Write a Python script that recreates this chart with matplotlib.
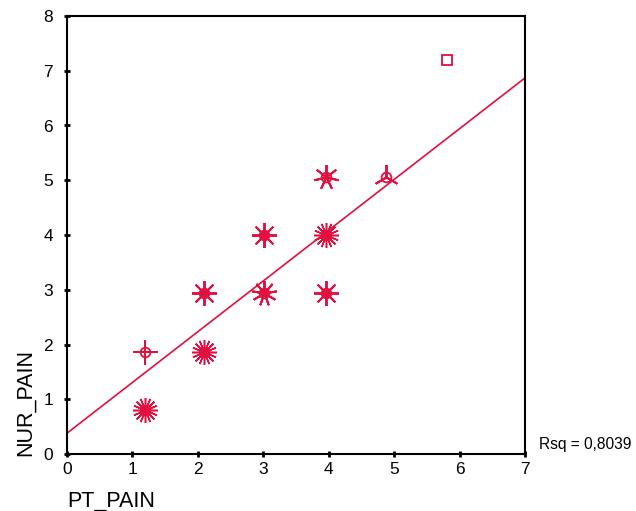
import matplotlib.pyplot as plt

plt.rcParams['font.family'] = ['Liberation Sans', 'DejaVu Sans']

# sunflower centres (binned PT_PAIN vs NUR_PAIN) and number of petals
pt_pain = [1.19, 1.19, 2.10, 2.10, 3.01, 3.01, 3.96, 3.96, 3.96, 4.88, 5.81]
nur_pain = [0.80, 1.86, 1.86, 2.94, 2.94, 4.00, 4.00, 2.94, 5.06, 5.06, 7.20]
petals = [16, 4, 16, 8, 9, 8, 16, 8, 7, 3, 0]

# fit line
intercept = 0.38
slope = 0.927
rsq = "Rsq = 0,8039"

col = '#E0103F'

fig = plt.figure(figsize=(6.36, 5.11), dpi=100)
ax = fig.add_axes([67/636, 57/511, 458/636, 438/511])

# regression line
ax.plot([0, 7], [intercept, intercept + slope * 7], color=col, lw=1.2, zorder=2)

# sunflowers
for x, y, n in zip(pt_pain, nur_pain, petals):
    ax.plot(x, y, marker='s' if n == 0 else 'o', ms=7, mfc='none', mec=col, mew=1.3, zorder=3)
    if n > 0:
        ax.plot(x, y, marker=(n, 2, 0), ms=18, mec=col, mew=1.1 if n > 10 else 1.4,
                ls='none', zorder=3)

ax.set_xlim(0, 7)
ax.set_ylim(0, 8)
ax.set_xticks(range(8))
ax.set_yticks(range(9))
ax.tick_params(direction='inout', length=4, width=2, labelsize=12.5, pad=4)
ax.tick_params(axis='y', pad=8)
for s in ax.spines.values():
    s.set_linewidth(1.5)

fig.text(25/636, (511-456)/511, "NUR_PAIN", rotation=90, fontsize=15.5, ha='center', va='bottom')
fig.text(67/636, -1/511, "PT_PAIN", fontsize=15.5, ha='left', va='bottom')
fig.text(539/636, (511-444)/511, rsq, fontsize=11.2, ha='left', va='center')

fig.savefig('out.png', dpi=100)
